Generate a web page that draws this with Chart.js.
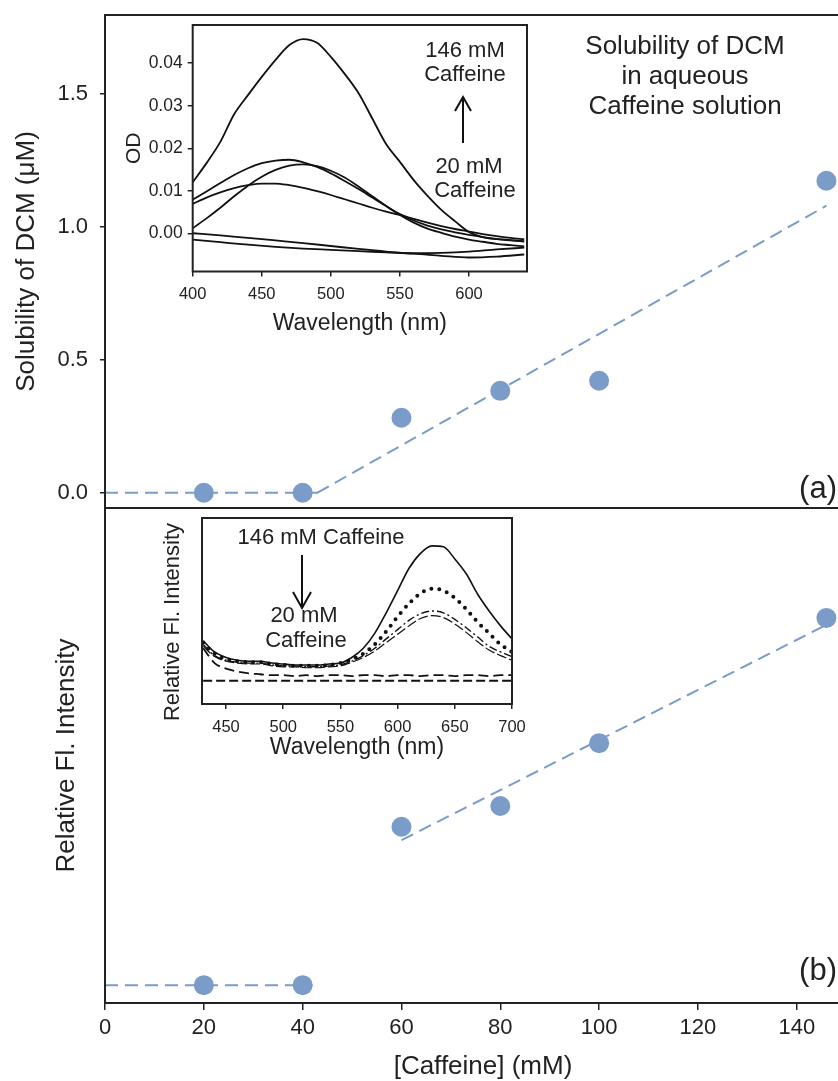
<!DOCTYPE html>
<html>
<head>
<meta charset="utf-8">
<script src="https://cdn.jsdelivr.net/npm/chart.js@4.4.1/dist/chart.umd.min.js"></script>
<style>
  html, body { margin: 0; padding: 0; background: #fff; overflow: hidden; }
  body { width: 838px; height: 1081px; position: relative; font-family: "Liberation Sans", Arial, sans-serif; color: #222; }
  .pane { position: absolute; }
  .pane canvas { display: block; }
  .note { position: absolute; white-space: nowrap; transform: translate(-50%, -50%); line-height: 1; text-align: center; }
  .tag { position: absolute; white-space: nowrap; transform: translate(-100%, -50%); line-height: 1; font-size: 31px; }
  svg.arrows { position: absolute; left: 0; top: 0; }
</style>
</head>
<body>

<div class="pane" style="left:0;top:0"><canvas id="panelA" width="861" height="510"></canvas></div>
<div class="pane" style="left:0;top:508px"><canvas id="panelB" width="861" height="573"></canvas></div>
<div class="pane" style="left:100px;top:20px"><canvas id="insetA" width="430" height="340"></canvas></div>
<div class="pane" style="left:150px;top:510px"><canvas id="insetB" width="385" height="265"></canvas></div>

<div class="note" style="left:685px;top:75px;font-size:26px;line-height:30px">Solubility of DCM<br>in aqueous<br>Caffeine solution</div>
<div class="tag" style="left:837px;top:487px">(a)</div>
<div class="tag" style="left:837px;top:969px">(b)</div>

<div class="note" style="left:465px;top:50px;font-size:22px">146 mM</div>
<div class="note" style="left:465px;top:74px;font-size:22px">Caffeine</div>
<div class="note" style="left:469px;top:166px;font-size:22px">20 mM</div>
<div class="note" style="left:475px;top:190px;font-size:22px">Caffeine</div>

<div class="note" style="left:321px;top:537px;font-size:22px">146 mM Caffeine</div>
<div class="note" style="left:304px;top:615px;font-size:22px">20 mM</div>
<div class="note" style="left:306px;top:640px;font-size:22px">Caffeine</div>
<div class="note" style="left:172px;top:622px;font-size:22px;transform:translate(-50%,-50%) rotate(-90deg)">Relative Fl. Intensity</div>

<svg class="arrows" width="838" height="1081">
  <g stroke="#111" stroke-width="2" fill="none">
    <line x1="463" y1="143" x2="463" y2="98"/>
    <polyline points="455,111 463,97 471,111"/>
    <line x1="302" y1="555" x2="302" y2="607"/>
    <polyline points="293,592 302,608 311,592"/>
  </g>
</svg>

<script>
Chart.defaults.font.family = '"Liberation Sans", Arial, sans-serif';
Chart.defaults.color = '#222';

// caffeine concentration (mM) and the two measured quantities
const caffeine = [20, 40, 60, 80, 100, 146];
const solubility = [0, 0, 0.282, 0.383, 0.421, 1.173];
const fluorescence = [3.6, 3.6, 35.6, 39.8, 52.5, 77.8];
const caffeineTicks = [0, 20, 40, 60, 80, 100, 120, 140];
const solubilityTicks = [0, 0.5, 1.0, 1.5];

// straight-line fits
const fitAFlatX = [0, 44], fitAFlatY = [0, 0];
const fitASlopeX = [43, 146], fitASlopeY = [0, 1.079];
const fitBFlatX = [0, 42], fitBFlatY = [3.6, 3.6];
const fitBSlopeX = [60, 146], fitBSlopeY = [32.9, 76.4];

// absorption spectra (inset a)
const absWl = [400, 410, 420, 430, 440, 450, 460, 470, 480, 490, 500, 510, 520, 530, 540, 550, 560, 570, 580, 590, 600, 610, 620, 630, 640];
const od146 = [0.012, 0.0165, 0.0215, 0.028, 0.0325, 0.0368, 0.0408, 0.0443, 0.0457, 0.0448, 0.0415, 0.0375, 0.033, 0.027, 0.021, 0.0168, 0.0125, 0.0088, 0.0055, 0.0028, 0.0003, -0.0009, -0.0014, -0.0017, -0.0019];
const odB = [0.0079, 0.0098, 0.0118, 0.0137, 0.0153, 0.0165, 0.0171, 0.0173, 0.0167, 0.0156, 0.0141, 0.0123, 0.0104, 0.0084, 0.0064, 0.0045, 0.003, 0.0018, 0.0009, 0.0002, -0.0004, -0.0009, -0.0013, -0.0016, -0.0019];
const odC = [0.0012, 0.0035, 0.006, 0.0087, 0.0112, 0.0133, 0.0149, 0.0159, 0.0162, 0.0158, 0.0147, 0.0131, 0.011, 0.0087, 0.0064, 0.0043, 0.0025, 0.0011, 0.0001, -0.0008, -0.0015, -0.002, -0.0025, -0.0028, -0.0031];
const odD = [0.0069, 0.0084, 0.0096, 0.0106, 0.0113, 0.0117, 0.0117, 0.0113, 0.0107, 0.0099, 0.009, 0.008, 0.007, 0.006, 0.0051, 0.0043, 0.0034, 0.0025, 0.0017, 0.001, 0.0004, -0.0002, -0.0007, -0.0011, -0.0014];
const absWlFlat = [400, 420, 440, 460, 480, 500, 520, 540, 560, 580, 600, 620, 640];
const odE = [0.0, -0.0005, -0.0011, -0.0017, -0.0023, -0.003, -0.0037, -0.0043, -0.0047, -0.0046, -0.0043, -0.0038, -0.0034];
const odF = [-0.0015, -0.0021, -0.0027, -0.0032, -0.0036, -0.0039, -0.0042, -0.0045, -0.0048, -0.0053, -0.0057, -0.0055, -0.005];
const odTicks = [0, 0.01, 0.02, 0.03, 0.04];
const absWlTicks = [400, 450, 500, 550, 600];

// fluorescence spectra (inset b)
const flWl = [430, 440, 450, 460, 470, 480, 490, 500, 510, 520, 530, 540, 550, 560, 570, 580, 590, 600, 610, 620, 630, 640, 650, 660, 670, 680, 690, 700];
const fl146 = [34, 28, 25, 23.5, 23, 23, 22, 21.5, 21, 21, 21, 21.5, 22, 25, 30, 38, 49, 61, 73, 81, 85, 84.5, 78, 70, 59, 50, 42, 35];
const flB = [33, 27, 24, 23, 22.5, 22.5, 21.5, 21, 20.5, 20.5, 20.5, 21, 22, 24, 27, 32, 39, 47, 54, 59.5, 62, 61, 57, 51, 44, 38, 32, 28];
const flC = [32, 26, 23.5, 22.5, 22, 22, 21, 20.5, 20.5, 20, 20, 20.5, 21, 23, 26, 30, 35, 40, 45, 48.5, 50, 49, 45.5, 41, 36, 31, 28, 25.5];
const flD = [31, 25.5, 23, 22, 21.5, 21.5, 20.5, 20, 20, 19.5, 19.5, 20, 20.5, 22.5, 25, 28.5, 33, 37.5, 42, 46, 47.5, 46.5, 43, 38.5, 33.5, 29, 26, 23.5];
const flE = [30, 22, 19, 17.5, 16.5, 16, 15.5, 15.5, 15, 15.5, 15, 15.5, 15.5, 15, 15.5, 15.5, 15, 15.5, 15.5, 15, 15.5, 15.5, 15, 15.5, 15.5, 15, 15.5, 15.5];
const flWlFlat = [430, 700];
const fl20 = [12.5, 12.5];
const flWlTicks = [450, 500, 550, 600, 650, 700];

const blue = '#7b9cc8';
const ink = '#222';

const pts = (xs, ys) => xs.map((x, i) => ({ x, y: ys[i] }));

// closed box round each plot area
const frame = {
  id: 'frame',
  afterDatasetsDraw(chart) {
    const { ctx, chartArea: a } = chart;
    ctx.save();
    ctx.strokeStyle = ink;
    ctx.lineWidth = 2;
    ctx.strokeRect(a.left, a.top, a.right - a.left, a.bottom - a.top);
    ctx.restore();
  }
};

const base = {
  responsive: false,
  animation: false,
  devicePixelRatio: 1,
  plugins: { legend: { display: false }, tooltip: { enabled: false } }
};

const pad = (top, right, bottom, left) => ({ autoPadding: false, padding: { top, right, bottom, left } });
const tickGrid = (len) => ({ drawOnChartArea: false, drawTicks: true, tickLength: len, color: ink, lineWidth: 1.5 });
const fixedTicks = (list) => (s) => { s.ticks = list.map(v => ({ value: v })); };

// pin an axis to a set thickness and drop the label overhang padding
const sizeY = (w) => (s) => { s.width = w; s.paddingTop = 0; s.paddingBottom = 0; };
const sizeX = (h) => (s) => { s.height = h; s.paddingLeft = 0; s.paddingRight = 0; };

const dots = (ys) => ({ data: pts(caffeine, ys), pointRadius: 10, pointBackgroundColor: blue, pointBorderWidth: 0, showLine: false, order: 0 });
const fit = (xs, ys) => ({ data: pts(xs, ys), showLine: true, borderColor: blue, borderWidth: 2, borderDash: [13, 7], pointRadius: 0, order: 1 });
const spec = (xs, ys, extra) => Object.assign({ data: pts(xs, ys), showLine: true, borderColor: '#111', borderWidth: 1.8, pointRadius: 0, cubicInterpolationMode: 'monotone' }, extra || {});

// (a) solubility
new Chart(document.getElementById('panelA'), {
  type: 'scatter',
  data: { datasets: [dots(solubility), fit(fitAFlatX, fitAFlatY), fit(fitASlopeX, fitASlopeY)] },
  options: Object.assign({}, base, {
    layout: pad(15, 0, 2, 0),
    scales: {
      x: { type: 'linear', display: false, min: 0, max: 153 },
      y: {
        min: -0.0575, max: 1.796,
        afterFit: sizeY(105),
        afterBuildTicks: fixedTicks(solubilityTicks),
        ticks: { font: { size: 22 }, padding: 12, color: ink, callback: (v) => v.toFixed(1) },
        grid: tickGrid(5),
        border: { display: false },
        title: { display: true, text: 'Solubility of DCM (\u03bcM)', color: ink, font: { size: 26, lineHeight: 1 }, padding: { top: 14 } }
      }
    }
  }),
  plugins: [frame]
});

// (b) fluorescence
new Chart(document.getElementById('panelB'), {
  type: 'scatter',
  data: { datasets: [dots(fluorescence), fit(fitBFlatX, fitBFlatY), fit(fitBSlopeX, fitBSlopeY)] },
  options: Object.assign({}, base, {
    layout: pad(0, 0, 0, 0),
    scales: {
      x: {
        type: 'linear', min: 0, max: 153,
        afterFit: sizeX(78),
        afterBuildTicks: fixedTicks(caffeineTicks),
        ticks: { font: { size: 22 }, padding: 5, color: ink },
        grid: tickGrid(7),
        border: { display: false },
        title: { display: true, text: '[Caffeine] (mM)', color: ink, font: { size: 26, lineHeight: 1 }, padding: { bottom: 1 } }
      },
      y: {
        min: 0, max: 100,
        afterFit: sizeY(105),
        ticks: { display: false },
        grid: { display: false },
        border: { display: false },
        title: { display: true, text: 'Relative Fl. Intensity', color: ink, font: { size: 26, lineHeight: 1 }, padding: { top: 54 } }
      }
    }
  }),
  plugins: [frame]
});

// inset: absorption spectra
new Chart(document.getElementById('insetA'), {
  type: 'scatter',
  data: { datasets: [
    spec(absWl, od146), spec(absWl, odB), spec(absWl, odC), spec(absWl, odD),
    spec(absWlFlat, odE), spec(absWlFlat, odF)
  ] },
  options: Object.assign({}, base, {
    layout: pad(5, 3, 0, 0),
    scales: {
      x: {
        type: 'linear', min: 400, max: 642,
        afterFit: sizeX(88.5),
        afterBuildTicks: fixedTicks(absWlTicks),
        ticks: { font: { size: 16.5 }, padding: 8, color: ink },
        grid: tickGrid(5),
        border: { display: false },
        title: { display: true, text: 'Wavelength (nm)', color: ink, font: { size: 23, lineHeight: 1 }, padding: { bottom: 25 } }
      },
      y: {
        min: -0.009, max: 0.049,
        afterFit: sizeY(92.7),
        afterBuildTicks: fixedTicks(odTicks),
        ticks: { font: { size: 17.5 }, padding: 5, color: ink, callback: (v) => v.toFixed(2) },
        grid: tickGrid(5),
        border: { display: false },
        title: { display: true, text: 'OD', color: ink, font: { size: 21, lineHeight: 1 }, padding: { top: 24 } }
      }
    }
  }),
  plugins: [frame]
});

// inset: fluorescence spectra
new Chart(document.getElementById('insetB'), {
  type: 'scatter',
  data: { datasets: [
    spec(flWl, fl146, { borderWidth: 1.6 }),
    spec(flWl, flB, { borderWidth: 4, borderDash: [0, 8], borderCapStyle: 'round' }),
    spec(flWl, flC, { borderWidth: 1.4, borderDash: [8, 3, 2, 3] }),
    spec(flWl, flD, { borderWidth: 1.2, borderDash: [10, 3] }),
    spec(flWl, flE, { borderWidth: 1.8, borderDash: [10, 5] }),
    spec(flWlFlat, fl20, { borderWidth: 2, borderDash: [9, 4] })
  ] },
  options: Object.assign({}, base, {
    layout: pad(8, 23, 0, 0),
    scales: {
      x: {
        type: 'linear', min: 429, max: 700,
        afterFit: sizeX(71),
        afterBuildTicks: fixedTicks(flWlTicks),
        ticks: { font: { size: 16.5 }, padding: 9, color: ink },
        grid: tickGrid(5),
        border: { display: false },
        title: { display: true, text: 'Wavelength (nm)', color: ink, font: { size: 23, lineHeight: 1 }, padding: { bottom: 16 } }
      },
      y: {
        min: 0, max: 100,
        afterFit: sizeY(52),
        ticks: { display: false },
        grid: { display: false },
        border: { display: false }
      }
    }
  }),
  plugins: [frame]
});
</script>
</body>
</html>
